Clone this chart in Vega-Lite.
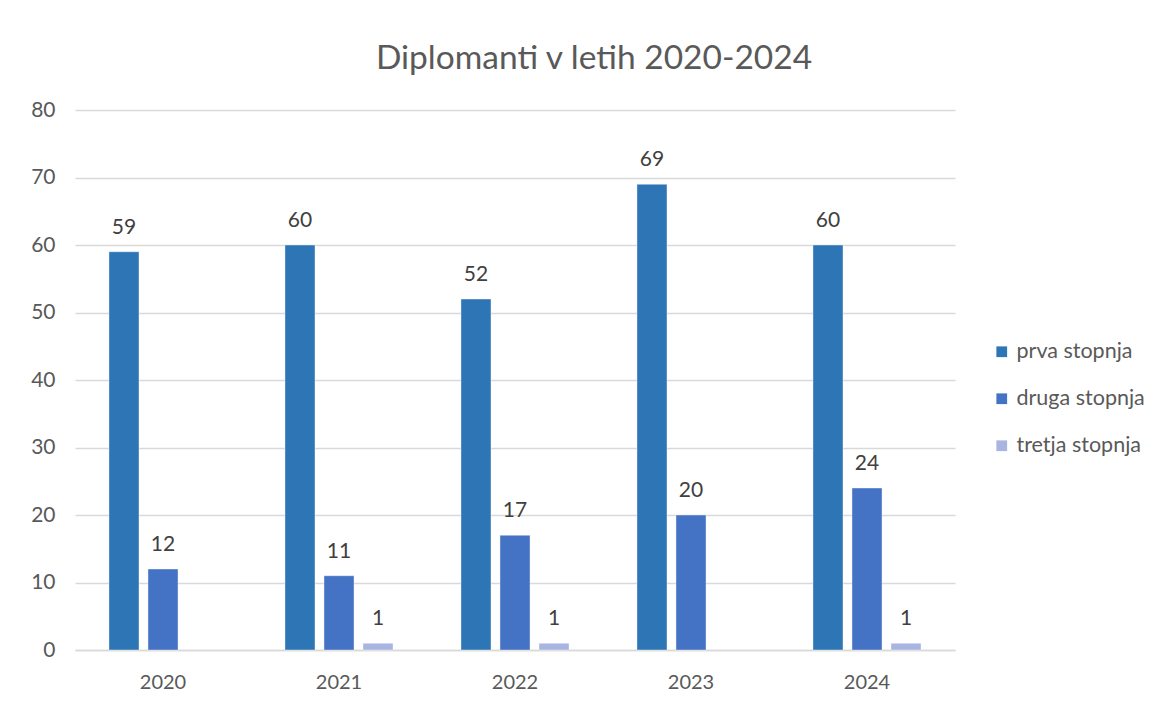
{
  "$schema": "https://vega.github.io/schema/vega-lite/v6.json",
  "autosize": "none",
  "width": 880,
  "height": 540,
  "padding": {"left": 75, "top": 110, "right": 207, "bottom": 54},
  "background": "white",
  "title": {
    "text": "Diplomanti v letih 2020-2024",
    "anchor": "middle",
    "frame": "group",
    "dx": 79,
    "offset": -3,
    "baseline": "alphabetic",
    "font": "Lato",
    "fontSize": 33.5,
    "fontWeight": "normal",
    "color": "#595959"
  },
  "config": {
    "view": {"stroke": null},
    "font": "Lato"
  },
  "data": {
    "values": [
      {"leto": "2020", "stopnja": "prva stopnja", "st": 59},
      {"leto": "2020", "stopnja": "druga stopnja", "st": 12},
      {"leto": "2021", "stopnja": "prva stopnja", "st": 60},
      {"leto": "2021", "stopnja": "druga stopnja", "st": 11},
      {"leto": "2021", "stopnja": "tretja stopnja", "st": 1},
      {"leto": "2022", "stopnja": "prva stopnja", "st": 52},
      {"leto": "2022", "stopnja": "druga stopnja", "st": 17},
      {"leto": "2022", "stopnja": "tretja stopnja", "st": 1},
      {"leto": "2023", "stopnja": "prva stopnja", "st": 69},
      {"leto": "2023", "stopnja": "druga stopnja", "st": 20},
      {"leto": "2024", "stopnja": "prva stopnja", "st": 60},
      {"leto": "2024", "stopnja": "druga stopnja", "st": 24},
      {"leto": "2024", "stopnja": "tretja stopnja", "st": 1}
    ]
  },
  "encoding": {
    "x": {
      "field": "leto",
      "type": "nominal",
      "scale": {"paddingInner": 0.386, "paddingOuter": 0.193},
      "axis": {
        "title": null,
        "labelAngle": 0,
        "ticks": false,
        "domainColor": "#D9D9D9",
        "domainWidth": 1.5,
        "labelFontSize": 20,
        "labelColor": "#595959",
        "labelPadding": 22,
        "labelFont": "Lato"
      }
    },
    "xOffset": {
      "field": "stopnja",
      "type": "nominal",
      "scale": {"domain": ["prva stopnja", "druga stopnja", "tretja stopnja"], "paddingInner": 0.23, "paddingOuter": 0}
    },
    "y": {
      "field": "st",
      "type": "quantitative",
      "scale": {"domain": [0, 80], "nice": false},
      "axis": {
        "title": null,
        "values": [0, 10, 20, 30, 40, 50, 60, 70, 80],
        "ticks": false,
        "domain": false,
        "gridColor": "#D9D9D9",
        "gridWidth": 1.5,
        "labelFontSize": 21,
        "labelColor": "#595959",
        "labelPadding": 20,
        "labelFont": "Lato"
      }
    }
  },
  "layer": [
    {
      "mark": {"type": "bar", "stroke": "#ffffff", "strokeOpacity": 0.4, "strokeWidth": 1},
      "encoding": {
        "color": {
          "field": "stopnja",
          "type": "nominal",
          "scale": {"domain": ["prva stopnja", "druga stopnja", "tretja stopnja"], "range": ["#2E75B6", "#4472C4", "#A7B5E0"]},
          "legend": {
            "title": null,
            "orient": "none",
            "legendX": 916,
            "legendY": 231,
            "symbolType": "square",
            "symbolSize": 115,
            "symbolStrokeWidth": 0,
            "symbolOpacity": 1,
            "labelFontSize": 21.5,
            "labelColor": "#595959",
            "labelFont": "Lato",
            "labelOffset": 4,
            "rowPadding": 24
          }
        }
      }
    },
    {
      "mark": {"type": "text", "baseline": "bottom", "dy": -14, "fontSize": 21, "color": "#404040", "font": "Lato"},
      "encoding": {
        "text": {"field": "st", "type": "quantitative"}
      }
    }
  ]
}
